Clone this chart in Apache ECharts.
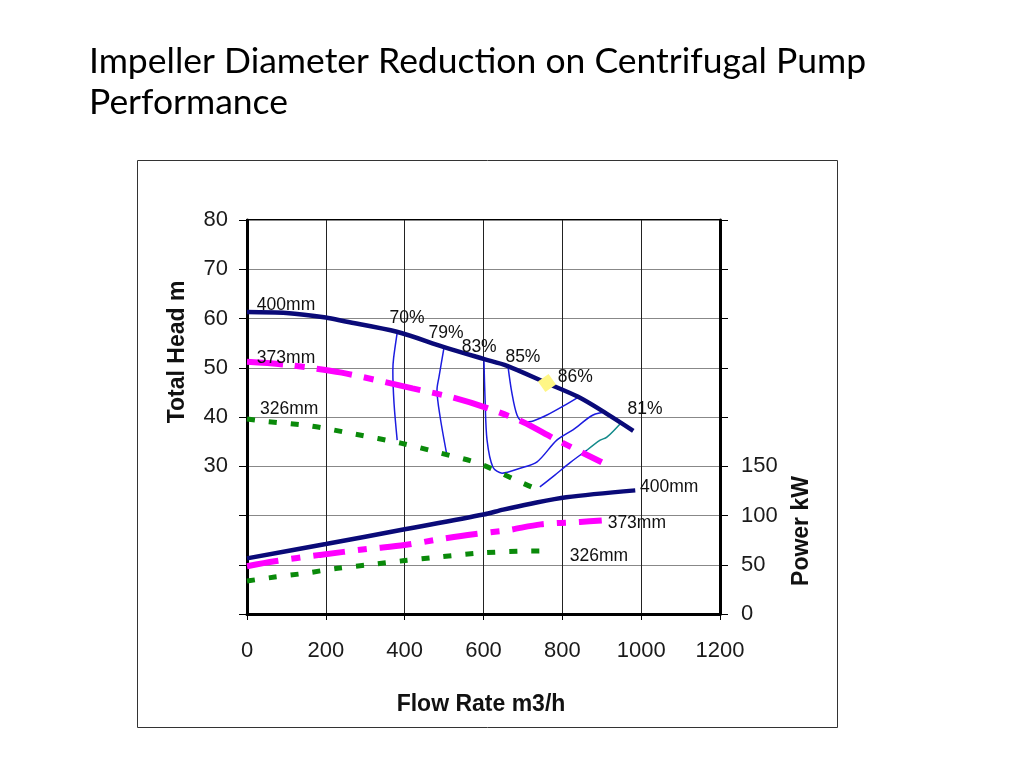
<!DOCTYPE html>
<html>
<head>
<meta charset="utf-8">
<script src="https://cdn.jsdelivr.net/npm/echarts@6/dist/echarts.min.js"></script>
<style>html,body{margin:0;padding:0;background:#fff}#c{width:1024px;height:768px}</style>
</head>
<body>
<div id="c"></div>
<script>
// ---- Data (Flow rate m3/h, Total head m) ----
const head400 = [[0,61.3],[100,61.1],[200,60.2],[250,59.4],[380,57.3],[500,54.2],[600,51.8],[660,50.4],[760,46.9],[840,44.1],[910,40.8],[980,37.2]];
const head373 = [[0,51.2],[100,50.6],[240,49.0],[420,45.8],[520,44.0],[610,41.8],[700,39.0],[780,35.6],[900,30.8]];
const head326 = [[0,39.6],[50,39.1],[160,38.2],[275,36.5],[390,34.7],[490,32.7],[590,30.5],[690,26.9],[745,25.0]];

// ---- Efficiency iso-lines (Flow, Head) ----
const eff70 = [[381,57.1],[372,52.0],[370,49.5],[373,42.8],[381,35.3]];
const eff79 = [[500,54.2],[487,48.1],[482,45.5],[490,40.0],[507,32.3]];
const eff83 = [[601,51.8],[604,43.5],[609,35.3],[624,29.8],[647,28.6],[693,29.6],[736,30.9],[786,35.3],[827,37.4],[878,40.4],[913,41.0]];
const eff85 = [[662,50.4],[672,44.9],[685,40.4],[700,39.0],[726,39.2],[761,40.4],[802,42.2],[842,44.1]];
const eff81a = [[743,25.8],[781,28.2],[819,30.7],[863,33.3]];
const eff81b = [[863,33.3],[896,35.3],[913,35.9],[951,39.0]];
const bestPoint = [[761,46.9]];

// ---- Power curves (Flow, Power kW) ----
const power400 = [[0,56.5],[200,71],[400,86],[600,101],[650,106],[720,112],[810,118.5],[985,125.5]];
const power373 = [[0,48.5],[70,53.5],[185,60],[305,66],[400,70],[490,76],[575,81],[660,85],[745,91],[845,93.5],[900,95]];
const power326 = [[0,33.5],[70,37.5],[150,41.5],[230,46.5],[310,50],[395,54],[490,58],[595,62],[700,63.8],[745,64]];

// ---- Annotations [flow, value, text] ----
const headLabels = [[25,62.7,'400mm'],[25,52.0,'373mm'],[33,41.6,'326mm']];
const effLabels = [[406,60.1,'70%'],[505,57.1,'79%'],[589,54.2,'83%'],[700,52.2,'85%'],[833,48.1,'86%'],[1010,41.6,'81%']];
const powerLabels = [[1071,128.7,'400mm'],[989,92.2,'373mm'],[893,58.8,'326mm']];

// ---- Axis ticks ----
const flowTicks = [0,200,400,600,800,1000,1200];
const headTicks = [30,40,50,60,70,80];
const powerTicks = [0,50,100,150];

const FONT = "'Liberation Sans', Arial, sans-serif";
const chart = echarts.init(document.getElementById('c'), null, {renderer:'canvas'});

function effSeries(data, color){
  return {type:'line', data:data, yAxisIndex:0, showSymbol:false, smooth:0.3, silent:true,
    lineStyle:{color:color, width:1.5}, z:3};
}
function labelSeries(data, yIdx, align){
  return {type:'scatter', yAxisIndex:yIdx, data:data, symbolSize:0, silent:true,
    itemStyle:{color:'#111', opacity:1},
    label:{show:true, position:'inside', align:align, formatter:p=>p.value[2],
      fontFamily:FONT, fontSize:17.5, color:'#111', textBorderWidth:0, textBorderColor:'transparent'}, z:6};
}
const titleFont = "bold 23px 'Liberation Sans', Arial, sans-serif";

chart.setOption({
  animation:false,
  backgroundColor:'#fff',
  title:{text:'Impeller Diameter Reduction on Centrifugal Pump\nPerformance', left:84, top:36,
    textStyle:{fontFamily:'Lato, sans-serif', fontSize:35.5, fontWeight:'normal', color:'#000', lineHeight:41}},
  graphic:[
    {type:'rect', shape:{x:137.5,y:160.5,width:700,height:567}, style:{fill:'none', stroke:'#333', lineWidth:1}, z:-10},
    {type:'text', x:178, y:352, rotation:Math.PI/2, style:{text:'Total Head m', font:titleFont, fill:'#111', align:'center', verticalAlign:'middle'}},
    {type:'text', x:802, y:531, rotation:Math.PI/2, style:{text:'Power kW', font:titleFont, fill:'#111', align:'center', verticalAlign:'middle'}},
    {type:'text', x:481, y:705, style:{text:'Flow Rate m3/h', font:titleFont, fill:'#111', align:'center', verticalAlign:'middle'}}
  ],
  grid:{left:247, top:220, right:304, bottom:154, show:true, borderColor:'#000', borderWidth:2, backgroundColor:'transparent'},
  xAxis:{type:'value', min:0, max:1200, interval:200,
    axisLine:{show:true, onZero:false, lineStyle:{color:'#000', width:3}},
    axisTick:{show:true, length:6, lineStyle:{color:'#000', width:1}},
    axisLabel:{fontFamily:FONT, fontSize:22, color:'#1a1a1a', margin:26,
      formatter:v=>flowTicks.includes(v)?String(v):''},
    splitLine:{show:true, lineStyle:{color:'#222', width:1}}},
  yAxis:[
    {type:'value', min:0, max:80, interval:10, position:'left',
      axisLine:{show:true, onZero:false, lineStyle:{color:'#000', width:3}},
      axisTick:{show:true, length:8, lineStyle:{color:'#000', width:1}},
      axisLabel:{fontFamily:FONT, fontSize:22, color:'#1a1a1a', margin:19,
        formatter:v=>headTicks.includes(v)?String(v):''},
      splitLine:{show:true, lineStyle:{color:'#888', width:1}}},
    {type:'value', min:0, max:400, interval:50, position:'right',
      axisLine:{show:true, onZero:false, lineStyle:{color:'#000', width:3}},
      axisTick:{show:true, length:8, lineStyle:{color:'#000', width:1}},
      axisLabel:{fontFamily:FONT, fontSize:22, color:'#1a1a1a', margin:21,
        formatter:v=>powerTicks.includes(v)?String(v):''},
      splitLine:{show:false}}
  ],
  series:[
    {type:'line', name:'H 400mm', data:head400, yAxisIndex:0, showSymbol:false, smooth:0.3, silent:true,
      lineStyle:{color:'#0a0a78', width:4.5}, z:4},
    {type:'line', name:'H 373mm', data:head373, yAxisIndex:0, showSymbol:false, smooth:0.3, silent:true,
      lineStyle:{color:'#ff00ff', width:6, type:[36,12,10,12], cap:'butt'}, z:4},
    {type:'line', name:'H 326mm', data:head326, yAxisIndex:0, showSymbol:false, smooth:0.3, silent:true,
      lineStyle:{color:'#0a8a0a', width:5, type:[8,14], cap:'butt'}, z:4},
    effSeries(eff70, '#1c1ce0'),
    effSeries(eff79, '#1c1ce0'),
    effSeries(eff83, '#1c1ce0'),
    effSeries(eff85, '#1c1ce0'),
    effSeries(eff81a, '#1c1ce0'),
    effSeries(eff81b, '#138a8a'),
    {type:'scatter', data:bestPoint, yAxisIndex:0, symbol:'rect', symbolSize:13, symbolRotate:35, silent:true,
      itemStyle:{color:'#fff685', opacity:1}, z:5},
    {type:'line', name:'P 400mm', data:power400, yAxisIndex:1, showSymbol:false, smooth:0.3, silent:true,
      lineStyle:{color:'#0a0a78', width:4.5}, z:4},
    {type:'line', name:'P 373mm', data:power373, yAxisIndex:1, showSymbol:false, smooth:0.3, silent:true,
      lineStyle:{color:'#ff00ff', width:6, type:[32,13,9,13], cap:'butt'}, z:4},
    {type:'line', name:'P 326mm', data:power326, yAxisIndex:1, showSymbol:false, smooth:0.3, silent:true,
      lineStyle:{color:'#0a8a0a', width:5, type:[8,14], cap:'butt'}, z:4},
    labelSeries(headLabels, 0, 'left'),
    labelSeries(effLabels, 0, 'center'),
    labelSeries(powerLabels, 1, 'center')
  ]
});
</script>
</body>
</html>
